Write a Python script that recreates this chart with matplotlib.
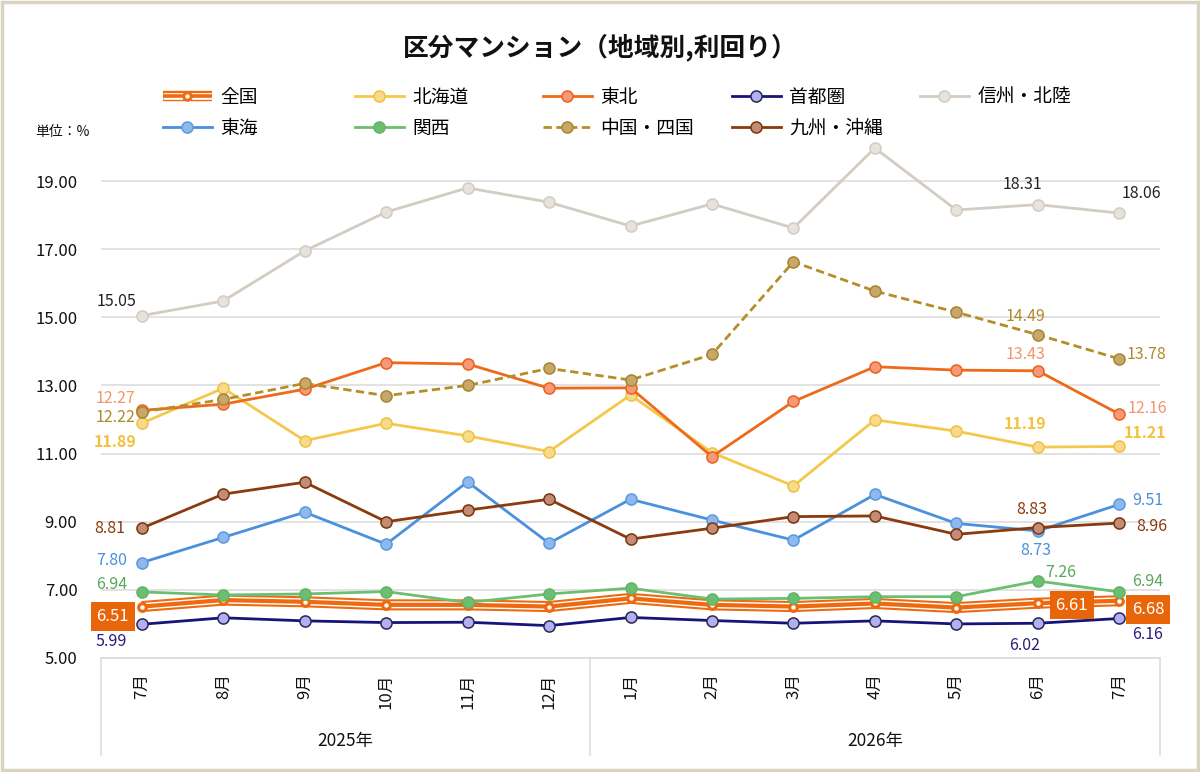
import matplotlib
matplotlib.use('Agg')
import matplotlib.pyplot as plt
from matplotlib.lines import Line2D
from matplotlib.patches import Rectangle

plt.rcParams['font.family'] = ['Noto Sans CJK JP', 'DejaVu Sans']

# ---------------- data ----------------
months = ['7月', '8月', '9月', '10月', '11月', '12月', '1月', '2月', '3月', '4月', '5月', '6月', '7月']
years = ['2025年', '2026年']
year_spans = [(0, 5), (6, 12)]

zenkoku  = [6.51, 6.70, 6.65, 6.56, 6.56, 6.51, 6.75, 6.56, 6.51, 6.60, 6.48, 6.61, 6.68]
hokkaido = [11.89, 12.92, 11.38, 11.89, 11.52, 11.06, 12.72, 11.03, 10.05, 11.99, 11.66, 11.19, 11.21]
tohoku   = [12.27, 12.45, 12.89, 13.67, 13.63, 12.92, 12.93, 10.91, 12.53, 13.55, 13.45, 13.43, 12.16]
shutoken = [5.99, 6.18, 6.09, 6.04, 6.05, 5.95, 6.19, 6.10, 6.02, 6.09, 6.00, 6.02, 6.16]
shinshu  = [15.05, 15.48, 16.95, 18.09, 18.80, 18.38, 17.68, 18.33, 17.62, 19.97, 18.15, 18.31, 18.06]
tokai    = [7.80, 8.54, 9.28, 8.34, 10.17, 8.37, 9.66, 9.05, 8.46, 9.80, 8.95, 8.73, 9.51]
kansai   = [6.94, 6.85, 6.88, 6.95, 6.63, 6.88, 7.05, 6.73, 6.75, 6.80, 6.80, 7.26, 6.94]
chugoku  = [12.22, 12.59, 13.06, 12.70, 13.00, 13.50, 13.16, 13.91, 16.63, 15.77, 15.15, 14.49, 13.78]
kyushu   = [8.81, 9.81, 10.16, 9.00, 9.34, 9.66, 8.49, 8.81, 9.15, 9.17, 8.63, 8.83, 8.96]

yticks = [5, 7, 9, 11, 13, 15, 17, 19]

# ---------------- figure ----------------
fig = plt.figure(figsize=(12, 7.72), dpi=100)
ax = fig.add_axes([101/1200, 1-658/772, (1160-101)/1200, (658-147)/772])
x = list(range(len(months)))

ORANGE = '#EE6A10'

# name, data, line colour, marker face, marker edge, linestyle, label colour
series = [
    ('北海道', hokkaido, '#F5C84C', '#F8DA8C', '#F0C040', '-', '#F2C23E'),
    ('東北', tohoku, '#EE6A1A', '#F79878', '#E8641A', '-', '#F2956A'),
    ('首都圏', shutoken, '#16147A', '#B0B0F2', '#2A2850', '-', '#2A1C7E'),
    ('信州・北陸', shinshu, '#D2CCC2', '#E7E3DC', '#D2CCC2', '-', '#222222'),
    ('東海', tokai, '#4A90DC', '#8EB8EE', '#5A9BE0', '-', '#4A90DC'),
    ('関西', kansai, '#6CBF70', '#6CBF70', '#62B466', '-', '#56A85A'),
    ('中国・四国', chugoku, '#B58E28', '#C8A86A', '#A88530', (0, (3, 1.6)), '#B08A28'),
    ('九州・沖縄', kyushu, '#8B3A0C', '#C28C76', '#7A340C', '-', '#8B3A0C'),
]

handles = {}
# 全国 compound line
ax.plot(x, zenkoku, color=ORANGE, lw=8.0, zorder=3, solid_capstyle='butt')
ax.plot(x, zenkoku, color='white', lw=5.0, zorder=3.1, solid_capstyle='butt')
ax.plot(x, zenkoku, color=ORANGE, lw=3.0, zorder=3.2, solid_capstyle='butt')
ax.plot(x, zenkoku, ls='none', marker='o', ms=6.8, mfc=ORANGE, mec=ORANGE, zorder=3.3)
ax.plot(x, zenkoku, ls='none', marker='o', ms=2.2, mfc='white', mec='white', zorder=3.4)
handles['全国'] = (
    Line2D([], [], color=ORANGE, lw=7.5, solid_capstyle='butt'),
    Line2D([], [], color='white', lw=4.8, solid_capstyle='butt'),
    Line2D([], [], color=ORANGE, lw=2.6, solid_capstyle='butt'),
    Line2D([], [], ls='none', marker='o', ms=6.5, mfc=ORANGE, mec=ORANGE),
    Line2D([], [], ls='none', marker='o', ms=2.2, mfc='white', mec='white'),
)

label_colors = {'全国': 'white'}
for name, data, lc, mf, me, ls, tc in series:
    ln, = ax.plot(x, data, color=lc, lw=2.0, ls=ls, marker='o', ms=8.0,
                  mfc=mf, mec=me, mew=1.1, zorder=4, clip_on=False)
    handles[name] = ln
    label_colors[name] = tc

# ---------------- data labels ----------------
data_map = {'全国': zenkoku, '北海道': hokkaido, '東北': tohoku, '首都圏': shutoken,
            '信州・北陸': shinshu, '東海': tokai, '関西': kansai, '中国・四国': chugoku,
            '九州・沖縄': kyushu}
# (series, index, dx px, dy px)
label_pos = [
    ('信州・北陸', 0, -25, 14), ('信州・北陸', 11, -15, 20), ('信州・北陸', 12, 22, 20),
    ('東北', 0, -26, 12), ('東北', 11, -12, 16), ('東北', 12, 28, 6),
    ('中国・四国', 0, -26, -5), ('中国・四国', 11, -12, 18), ('中国・四国', 12, 27, 4),
    ('北海道', 0, -27, -19), ('北海道', 11, -13, 23), ('北海道', 12, 26, 13),
    ('九州・沖縄', 0, -32, 0), ('九州・沖縄', 11, -6, 18), ('九州・沖縄', 12, 33, -3),
    ('東海', 0, -30, 2), ('東海', 11, -2, -20), ('東海', 12, 29, 4),
    ('関西', 0, -30, 7), ('関西', 11, 23, 9), ('関西', 12, 28, 10),
    ('首都圏', 0, -31, -17), ('首都圏', 11, -13, -22), ('首都圏', 12, 28, -16),
]
for name, i, dx, dy in label_pos:
    v = data_map[name][i]
    bold = name == '北海道'
    ax.annotate(f'{v:.2f}', xy=(i, v), xytext=(dx, dy), textcoords='offset pixels',
                ha='center', va='center', fontsize=11.5, color=label_colors[name],
                fontweight='bold' if bold else 'normal', zorder=6, annotation_clip=False)

for i, dx, dy in [(0, -29, -10), (11, 34, -2), (12, 29, -9)]:
    v = zenkoku[i]
    ax.annotate(f'{v:.2f}', xy=(i, v), xytext=(dx, dy), textcoords='offset pixels',
                ha='center', va='center', fontsize=12, color='white', zorder=7,
                annotation_clip=False,
                bbox=dict(boxstyle='square,pad=0.35', fc='#E8650A', ec='none'))

# ---------------- axes styling ----------------
ax.set_xlim(-0.5, len(months) - 0.5)
ax.set_ylim(5, 20)
ax.set_yticks(yticks)
ax.set_yticklabels([f'{t:.2f}' for t in yticks], fontsize=12, color='#111111')
ax.set_xticks(x)
ax.set_xticklabels(months, rotation=90, fontsize=12, color='#111111', va='top')
ax.tick_params(axis='both', length=0)
ax.tick_params(axis='y', pad=17)
ax.tick_params(axis='x', pad=11)
ax.grid(axis='y', color='#DADADA', lw=1.1, zorder=0)
ax.set_axisbelow(True)
for s in ['top', 'right', 'left']:
    ax.spines[s].set_visible(False)
ax.spines['bottom'].set_color('#DADADA')
ax.spines['bottom'].set_linewidth(1.1)

trans = ax.get_xaxis_transform()
ybot = (658 - 755) / (658 - 147)
for xs in [-0.5, 5.5, len(months) - 0.5]:
    ax.plot([xs, xs], [0, ybot], transform=trans, color='#DADADA', lw=1.1, clip_on=False)
yyear = (658 - 741) / (658 - 147)
for yl, (a, b) in zip(years, year_spans):
    ax.text((a + b) / 2, yyear, yl, transform=trans, ha='center', va='center',
            fontsize=12.5, color='#111111')

# ---------------- title / unit ----------------
fig.text(0.5, 1 - 47/772, '区分マンション（地域別,利回り）', ha='center', va='center',
         fontsize=18.5, fontweight='bold', color='#111111')
fig.text(35/1200, 1 - 132/772, '単位：%', ha='left', va='center', fontsize=10, color='#111111')

# ---------------- legend (one per column) ----------------
columns = [(163, ['全国', '東海']), (355, ['北海道', '関西']), (543, ['東北', '中国・四国']),
           (732, ['首都圏', '九州・沖縄']), (920, ['信州・北陸'])]
for cx, names in columns:
    leg = fig.legend([handles[n] for n in names], names, loc='upper left',
                     bbox_to_anchor=(cx/1200, 1 - 87/772), frameon=False,
                     fontsize=13.5, handlelength=2.6, handletextpad=0.45,
                     borderpad=0, borderaxespad=0, labelspacing=0.52)

# ---------------- border ----------------
fig.patches.append(Rectangle((0.002, 0.003), 0.996, 0.994, transform=fig.transFigure,
                             fill=False, ec='#D8D4C0', lw=2.5))

fig.savefig('out.png', dpi=100)
